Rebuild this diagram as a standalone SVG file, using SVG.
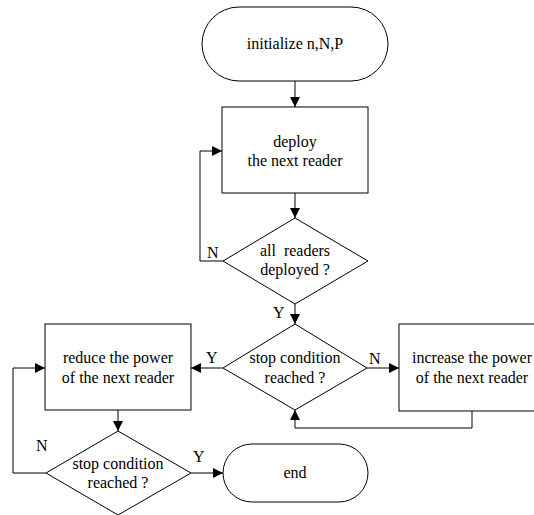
<svg xmlns="http://www.w3.org/2000/svg" width="534" height="515" viewBox="0 0 534 515">
<style>
.s{fill:#fff;stroke:#000;stroke-width:1}
.c{fill:none;stroke:#000;stroke-width:1}
</style>
<defs>
<marker id="a" viewBox="0 0 10 10" refX="10" refY="5" markerWidth="10" markerHeight="10" markerUnits="userSpaceOnUse" orient="auto">
<path d="M0,0 L10,5 L0,10 Z" fill="#000"/>
</marker>
</defs>
<rect width="534" height="515" fill="#fff"/>
<g id="connectors">
<line class="c" x1="295" y1="81" x2="295" y2="107" marker-end="url(#a)"/>
<line class="c" x1="295" y1="193" x2="295" y2="218" marker-end="url(#a)"/>
<polyline class="c" points="223,261 200,261 200,151 222,151" marker-end="url(#a)"/>
<line class="c" x1="295" y1="304" x2="295" y2="324" marker-end="url(#a)"/>
<line class="c" x1="367" y1="368" x2="399" y2="368" marker-end="url(#a)"/>
<polyline class="c" points="472,411 472,428 295,428 295,410" marker-end="url(#a)"/>
<line class="c" x1="223" y1="368" x2="191" y2="368" marker-end="url(#a)"/>
<line class="c" x1="118" y1="410" x2="118" y2="431" marker-end="url(#a)"/>
<polyline class="c" points="46,473 13,473 13,368 45,368" marker-end="url(#a)"/>
<line class="c" x1="191" y1="473" x2="223" y2="473" marker-end="url(#a)"/>
<text x="207" y="258" font-family="Liberation Serif" font-size="16">N</text>
<text x="273" y="318" font-family="Liberation Serif" font-size="16">Y</text>
<text x="206" y="363" font-family="Liberation Serif" font-size="16">Y</text>
<text x="369" y="364" font-family="Liberation Serif" font-size="16">N</text>
<text x="36" y="451" font-family="Liberation Serif" font-size="16">N</text>
<text x="193" y="462" font-family="Liberation Serif" font-size="16">Y</text>
</g>
<g id="start">
<rect class="s" x="202" y="7" width="186" height="74" rx="37" ry="37"/>
<text x="295" y="49" text-anchor="middle" font-family="Liberation Serif" font-size="16">initialize n,N,P</text>
</g>
<g id="deploy">
<rect class="s" x="222" y="107" width="146" height="86"/>
<text x="295" y="147" text-anchor="middle" font-family="Liberation Serif" font-size="16">deploy</text>
<text x="295" y="166" text-anchor="middle" font-family="Liberation Serif" font-size="16">the next reader</text>
</g>
<g id="allDeployed">
<polygon class="s" points="295,218 368,261 295,304 223,261"/>
<text x="295" y="256" text-anchor="middle" font-family="Liberation Serif" font-size="16" xml:space="preserve">all  readers</text>
<text x="295" y="275" text-anchor="middle" font-family="Liberation Serif" font-size="16">deployed ?</text>
</g>
<g id="stop1">
<polygon class="s" points="295,324 367,368 295,410 223,368"/>
<text x="295" y="363" text-anchor="middle" font-family="Liberation Serif" font-size="16">stop condition</text>
<text x="295" y="383" text-anchor="middle" font-family="Liberation Serif" font-size="16">reached ?</text>
</g>
<g id="increase">
<rect class="s" x="399" y="324" width="146" height="87"/>
<text x="472" y="363" text-anchor="middle" font-family="Liberation Serif" font-size="16">increase the power</text>
<text x="472" y="383" text-anchor="middle" font-family="Liberation Serif" font-size="16">of the next reader</text>
</g>
<g id="reduce">
<rect class="s" x="45" y="324" width="146" height="86"/>
<text x="118" y="363" text-anchor="middle" font-family="Liberation Serif" font-size="16">reduce the power</text>
<text x="118" y="383" text-anchor="middle" font-family="Liberation Serif" font-size="16">of the next reader</text>
</g>
<g id="stop2">
<polygon class="s" points="118,431 191,473 118,515 46,473"/>
<text x="118" y="469" text-anchor="middle" font-family="Liberation Serif" font-size="16">stop condition</text>
<text x="118" y="488" text-anchor="middle" font-family="Liberation Serif" font-size="16">reached ?</text>
</g>
<g id="end">
<rect class="s" x="223" y="444" width="145" height="58" rx="29" ry="29"/>
<text x="295" y="478" text-anchor="middle" font-family="Liberation Serif" font-size="16">end</text>
</g>
</svg>
